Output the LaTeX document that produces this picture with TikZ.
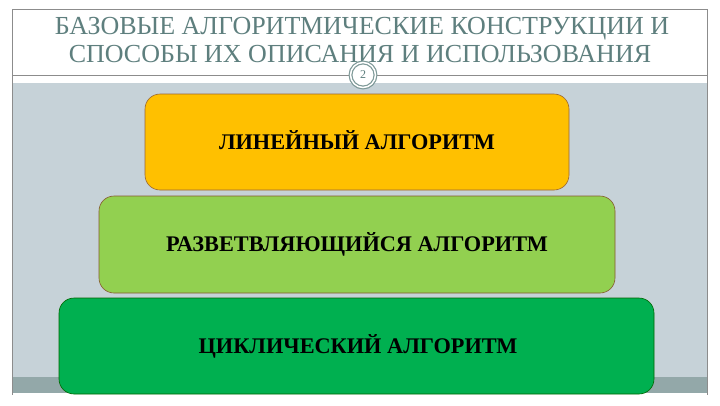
\documentclass[tikz,border=0pt]{standalone}
\usepackage{fontspec}
\setmainfont{Liberation Serif}
\begin{document}
\begin{tikzpicture}[x=1pt,y=-1pt,
  framecol/.style={draw=black!45, line width=0.6pt},
  tier/.style={rounded corners=15pt, line width=0.6pt},
  tiertext/.style={font=\bfseries\fontsize{22.3}{24}\selectfont, text=black, inner sep=0pt, anchor=base},
  titletext/.style={font=\fontsize{26}{28}\selectfont, text=titlecol, inner sep=0pt, anchor=base}
]
\definecolor{titlecol}{HTML}{5E7F7E}
\definecolor{panelcol}{HTML}{C6D2D8}
\definecolor{stripcol}{HTML}{93A8A9}
\definecolor{yellowcol}{HTML}{FFC000}
\definecolor{lgreencol}{HTML}{92D050}
\definecolor{greencol}{HTML}{00B050}
\useasboundingbox (0,0) rectangle (720,405);
\fill[white] (0,0) rectangle (720,405);
% panel
\fill[panelcol] (12,83) rectangle (707,393);
\fill[stripcol] (12,377) rectangle (707,393);
% frame
\draw[framecol] (12,9) -- (707,9);
\draw[framecol] (12,9) -- (12,395);
\draw[framecol] (707,9) -- (707,395);
\draw[framecol] (12,75) -- (707,75);
% title
\node[titletext] (title1) at (362,34) {БАЗОВЫЕ АЛГОРИТМИЧЕСКИЕ КОНСТРУКЦИИ И};
\node[titletext] (title2) at (360,62) {СПОСОБЫ ИХ ОПИСАНИЯ И ИСПОЛЬЗОВАНИЯ};
% page number circle
\node[circle, fill=white, draw=titlecol!80, double=white, double distance=1.5pt, line width=1.2pt, minimum size=25pt, inner sep=0pt, font=\fontsize{12}{13}\selectfont, text=titlecol] (num) at (363,75) {2};
% tiers
\draw[tier, fill=yellowcol, draw=brown!80!black] (145,94) rectangle (569,190);
\node[tiertext] (t1) at (357,149) {ЛИНЕЙНЫЙ АЛГОРИТМ};
\draw[tier, fill=lgreencol, draw=brown!70!black] (99,196) rectangle (615,293);
\node[tiertext] (t2) at (357,251) {РАЗВЕТВЛЯЮЩИЙСЯ АЛГОРИТМ};
\draw[tier, fill=greencol, draw=green!40!black] (59,298) rectangle (654,394);
\node[tiertext] (t3) at (358,353) {ЦИКЛИЧЕСКИЙ АЛГОРИТМ};
\end{tikzpicture}
\end{document}
